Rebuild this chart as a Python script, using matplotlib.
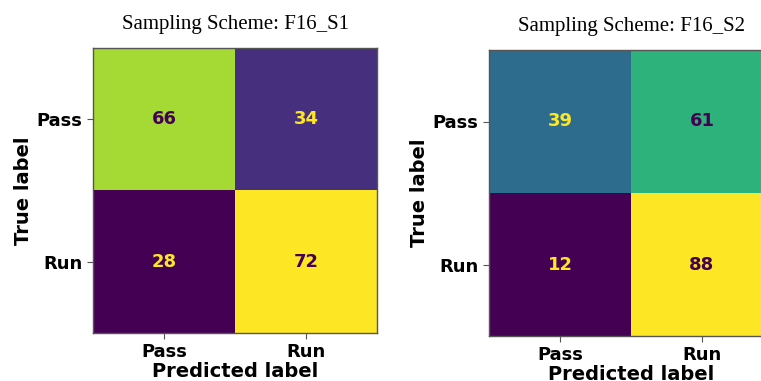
import numpy as np
import matplotlib
matplotlib.use("Agg")
import matplotlib.pyplot as plt

classes = ["Pass", "Run"]
titles = ["Sampling Scheme: F16_S1", "Sampling Scheme: F16_S2"]
cm_s1 = np.array([[66, 34],
                  [28, 72]])
cm_s2 = np.array([[39, 61],
                  [12, 88]])
matrices = [cm_s1, cm_s2]

W, H = 761, 381
fig = plt.figure(figsize=(W / 100, H / 100), dpi=100)

# axes boxes in pixels: left, top, right, bottom
boxes = [(93, 48, 377, 333), (489, 50, 773, 336)]

cmap = plt.get_cmap("viridis")
label_font = dict(family="DejaVu Sans", weight="bold", size=13)

for cm, title, (l, t, r, b) in zip(matrices, titles, boxes):
    ax = fig.add_axes([l / W, 1 - b / H, (r - l) / W, (b - t) / H])
    vmin, vmax = cm.min(), cm.max()
    ax.imshow(cm, cmap=cmap, vmin=vmin, vmax=vmax, aspect="auto",
              interpolation="nearest")
    thresh = (vmax + vmin) / 2.0
    for i in range(cm.shape[0]):
        for j in range(cm.shape[1]):
            color = cmap(0.0) if cm[i, j] > thresh else cmap(1.0)
            ax.text(j, i, f"{cm[i, j]}", ha="center", va="center",
                    color=color, fontsize=13, fontweight="bold")
    ax.set_xticks(range(len(classes)))
    ax.set_yticks(range(len(classes)))
    ax.set_xticklabels(classes, fontdict=label_font)
    ax.set_yticklabels(classes, fontdict=label_font)
    ax.set_xlabel("Predicted label", fontsize=14, fontweight="bold", labelpad=0.5)
    ax.set_ylabel("True label", fontsize=14, fontweight="bold", labelpad=3)
    ax.tick_params(length=4, width=0.8, color="#555555")
    for s in ax.spines.values():
        s.set_color("#555555")
        s.set_linewidth(1.0)
    ax.set_title(title, family="Liberation Serif", fontsize=15, pad=14)

fig.savefig("out.png", dpi=100)
